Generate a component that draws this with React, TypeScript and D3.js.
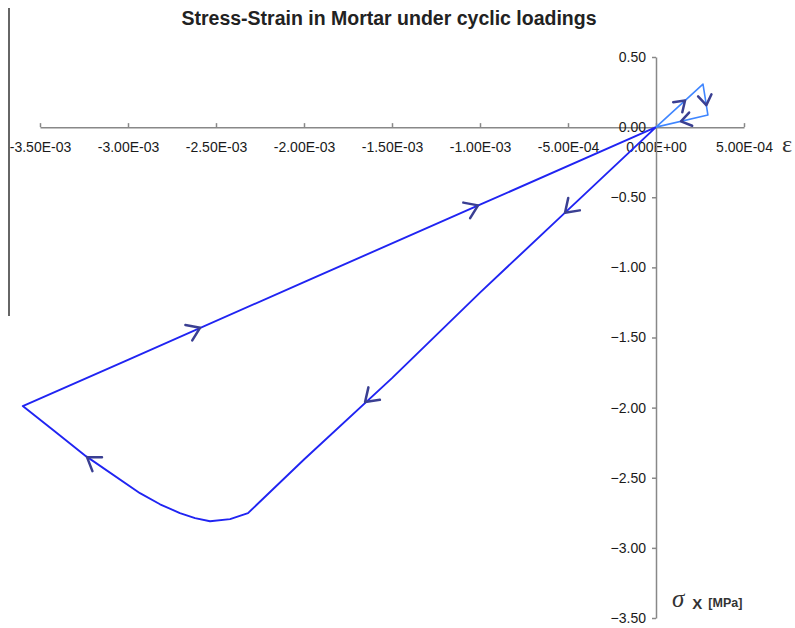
import * as d3 from "d3"
import { useEffect, useRef } from "react"

// x ticks (strain) and y ticks (stress, MPa)
const xTicks = [-3.5e-3, -3.0e-3, -2.5e-3, -2.0e-3, -1.5e-3, -1.0e-3, -5.0e-4, 0, 5.0e-4]
const yTicks = [0.5, 0, -0.5, -1.0, -1.5, -2.0, -2.5, -3.0, -3.5]

// compression cycle: unloading line, softening curve, reloading line
const compStrain = [0, -0.5e-3, -1.0e-3, -1.5e-3, -2.0e-3, -2.318e-3, -2.42e-3, -2.534e-3, -2.619e-3, -2.705e-3, -2.818e-3, -2.932e-3, -3.239e-3, -3.415e-3, -3.598e-3, -3.0e-3, -2.0e-3, -1.0e-3, 0]
const compStress = [0, -0.59, -1.18, -1.79, -2.37, -2.752, -2.795, -2.81, -2.788, -2.752, -2.689, -2.61, -2.346, -2.171, -1.989, -1.66, -1.105, -0.553, 0]

// small tension loop
const tensStrain = [0, 2.67e-4, 2.95e-4, 0]
const tensStress = [0, 0.307, 0.086, 0]

// arrow heads (tip positions on the paths)
const compArrows: [number, number][] = [[-0.517e-3, -0.61], [-1.653e-3, -1.96], [-3.233e-3, -2.353], [-2.59e-3, -1.43], [-1.011e-3, -0.558]]
const tensArrows: [number, number][] = [[1.65e-4, 0.19], [2.86e-4, 0.157], [1.42e-4, 0.041]]

function sci(v: number) {
    if (v === 0) return "0.00E+00"
    const [m, e] = v.toExponential(2).split("e")
    const n = +e
    return `${m}E${n < 0 ? "-" : "+"}${String(Math.abs(n)).padStart(2, "0")}`
}

export default function App() {
    const svgRef = useRef<SVGSVGElement>(null)

    useEffect(() => {
        const width = 795
        const height = 628
        const font = "'Liberation Sans', Arial, sans-serif"

        const x = d3.scaleLinear([-3.5e-3, 5e-4], [40, 744])
        const y = d3.scaleLinear([-3.5, 0.5], [618, 57])

        if (svgRef.current !== null) {
            svgRef.current.innerHTML = ""
        }

        const svg = d3.select(svgRef.current)
            .attr("width", width)
            .attr("height", height)
            .attr("viewBox", [0, 0, width, height])

        svg.append("rect").attr("width", width).attr("height", height).attr("fill", "white")

        // stray axis line on the left edge
        svg.append("line")
            .attr("x1", 9).attr("x2", 9).attr("y1", 8).attr("y2", 316)
            .attr("stroke", "#333").attr("stroke-width", 1.5)

        svg.append("text")
            .attr("x", 389).attr("y", 25)
            .attr("text-anchor", "middle")
            .attr("font-family", font).attr("font-weight", "bold").attr("font-size", 19.5)
            .attr("fill", "#222")
            .text("Stress-Strain in Mortar under cyclic loadings")

        // x axis through y=0
        const gx = svg.append("g")
            .attr("transform", `translate(0, ${y(0)})`)
            .call(d3.axisBottom(x).tickValues(xTicks).tickFormat(d => sci(+d)).tickSizeInner(-4).tickSizeOuter(0).tickPadding(15))
        gx.select(".domain").attr("stroke", "#888").attr("stroke-width", 1.5)
        gx.selectAll(".tick line").attr("stroke", "#888").attr("stroke-width", 1.5)
        gx.selectAll(".tick text").attr("font-family", font).attr("font-size", 14).attr("fill", "#1a1a1a")

        // y axis through x=0
        const gy = svg.append("g")
            .attr("transform", `translate(${x(0)}, 0)`)
            .call(d3.axisLeft(y).tickValues(yTicks).tickFormat(d3.format(".2f")).tickSizeInner(4).tickSizeOuter(0).tickPadding(6))
        gy.select(".domain").attr("stroke", "#888").attr("stroke-width", 1.5)
        gy.selectAll(".tick line").attr("stroke", "#888").attr("stroke-width", 1.5)
        gy.selectAll(".tick text").attr("font-family", font).attr("font-size", 14).attr("fill", "#1a1a1a")

        // axis titles
        svg.append("text")
            .attr("x", 782).attr("y", 152)
            .attr("font-family", "'Liberation Serif', 'DejaVu Serif', serif").attr("font-size", 24)
            .attr("fill", "#333")
            .text("ε")
        const sig = svg.append("text")
            .attr("x", 672).attr("y", 607)
            .attr("fill", "#333")
        sig.append("tspan")
            .attr("font-family", "'Liberation Serif', 'DejaVu Serif', serif").attr("font-style", "italic").attr("font-size", 25)
            .text("σ")
        sig.append("tspan")
            .attr("dx", 8).attr("dy", 2)
            .attr("font-family", font).attr("font-weight", "bold").attr("font-size", 15)
            .text("X")
        sig.append("tspan")
            .attr("dx", 6).attr("dy", -2)
            .attr("font-family", font).attr("font-weight", "bold").attr("font-size", 12.5)
            .text("[MPa]")

        const line = d3.line<[number, number]>().x(d => x(d[0])).y(d => y(d[1]))

        const series = [
            { pts: compStrain.map((v, i) => [v, compStress[i]] as [number, number]), color: "#2024f2", w: 1.9, arrows: compArrows },
            { pts: tensStrain.map((v, i) => [v, tensStress[i]] as [number, number]), color: "#3f86ff", w: 1.6, arrows: tensArrows },
        ]

        series.forEach(s => {
            svg.append("path")
                .attr("d", line(s.pts))
                .attr("fill", "none")
                .attr("stroke", s.color)
                .attr("stroke-width", s.w)
                .attr("stroke-linejoin", "round")
        })

        // chevrons pointing along the direction of each path
        series.forEach((s, si) => {
            const px = s.pts.map(p => [x(p[0]), y(p[1])])
            s.arrows.forEach(a => {
                const tx = x(a[0]), ty = y(a[1])
                let best = Infinity, dir = [1, 0]
                for (let i = 0; i < px.length - 1; i++) {
                    const [x1, y1] = px[i], [x2, y2] = px[i + 1]
                    const dx = x2 - x1, dy = y2 - y1
                    const len2 = dx * dx + dy * dy
                    if (len2 === 0) continue
                    const t = Math.max(0, Math.min(1, ((tx - x1) * dx + (ty - y1) * dy) / len2))
                    const d = Math.hypot(tx - (x1 + t * dx), ty - (y1 + t * dy))
                    if (d < best) { best = d; dir = [dx, dy] }
                }
                const ang = Math.atan2(-dir[1], -dir[0])
                const spread = 0.6
                const len = si === 0 ? 15 : 12
                const p1 = [tx + len * Math.cos(ang + spread), ty + len * Math.sin(ang + spread)]
                const p2 = [tx + len * Math.cos(ang - spread), ty + len * Math.sin(ang - spread)]
                svg.append("path")
                    .attr("d", `M${p1[0]},${p1[1]}L${tx},${ty}L${p2[0]},${p2[1]}`)
                    .attr("fill", "none")
                    .attr("stroke", "#3a3f92")
                    .attr("stroke-width", 2.5)
                    .attr("stroke-linecap", "round")
                    .attr("stroke-linejoin", "round")
            })
        })
    }, [])

    return <>
        <svg ref={svgRef} style={{ position: "absolute", left: 0, top: 0 }}></svg>
    </>
}
